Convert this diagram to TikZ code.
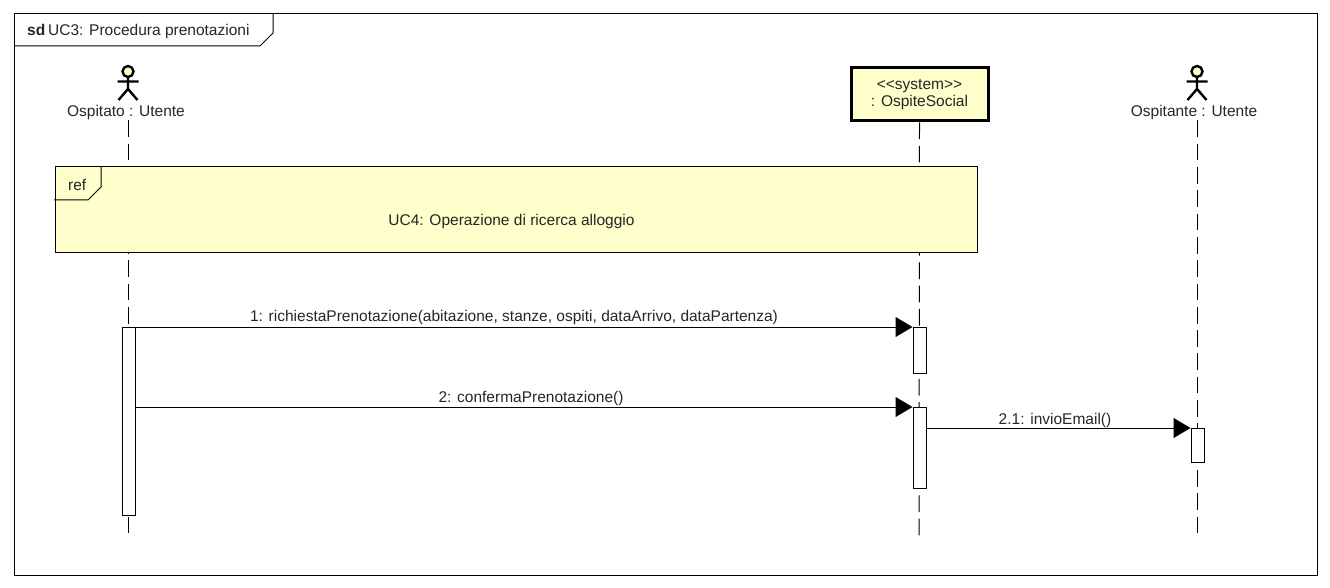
\documentclass[tikz,border=0pt]{standalone}
\usepackage{fontspec}
\setmainfont{Liberation Sans}
\usetikzlibrary{arrows.meta}
\definecolor{noteyellow}{HTML}{FFFFCC}
\tikzset{
  uml/.style={font=\fontsize{15.5}{17}\selectfont, text=black!85},
  lifeline/.style={line width=1pt, dash pattern=on 16.7pt off 6.6pt},
  activation/.style={draw, fill=white, line width=1pt, minimum width=13pt, inner sep=0pt, anchor=north},
  message/.style={line width=1pt, -{Triangle[length=17pt,width=20pt]}},
  msglabel/.style={uml, inner sep=0pt, anchor=base},
  stickman/.pic={
    \draw[line width=2.4pt, fill=noteyellow] (0,-5.5) circle (5.5pt);
    \draw[line width=2.4pt] (0,0) -- (0,12) (-10.5,4.5) -- (10.5,4.5) (-9.5,23) -- (0,12) -- (9.5,23);
  }
}
\begin{document}
\begin{tikzpicture}[x=1pt, y=-1pt, >=stealth]
  \useasboundingbox (0,0) rectangle (1330,588);
  % outer frame and its tab
  \draw[line width=1pt] (14,14) rectangle (1317,575);
  \draw[line width=1pt] (273,14) -- (273,33) -- (260,46) -- (14,46);
  \node[uml, inner sep=0pt, anchor=base west] (sdtag) at (27,36) {\textbf{sd}};
  \node[uml, inner sep=0pt, anchor=base west] (sdtitle) at (48,36) {UC3: Procedura prenotazioni};
  % participants
  \pic at (128,77) {stickman};
  \pic at (1197,77) {stickman};
  \node[uml, inner sep=0pt] (ospitato) at (126,112) {Ospitato : Utente};
  \node[uml, inner sep=0pt] (ospitante) at (1194,112) {Ospitante : Utente};
  \node[draw, line width=3pt, fill=noteyellow, minimum width=137pt, minimum height=53pt, align=center, inner sep=0pt, uml] (sistema) at (919.5,94.5)
    {\raisebox{0.5pt}{{<}{<}system{>}{>}}\\[-1pt]: OspiteSocial};
  % lifelines
  \coordinate (ospitatoEnd) at (128,536);
  \coordinate (sistemaEnd) at (919,536);
  \coordinate (ospitanteEnd) at (1197,536);
  \draw[lifeline] (ospitato.south -| ospitatoEnd) ++(0,1) -- (ospitatoEnd);
  \draw[lifeline] (sistema.south) -- (sistemaEnd);
  \draw[lifeline] (ospitante.south -| ospitanteEnd) ++(0,1) -- (ospitanteEnd);
  % ref fragment
  \node[draw, line width=1pt, fill=noteyellow, minimum width=922pt, minimum height=85pt, inner sep=0pt] (riquadro) at (516,209.5) {};
  \draw[line width=1pt] (101,167) -- (101,187) -- (88,200) -- (54,200);
  \node[uml, inner sep=0pt, anchor=base west] (reftag) at (68,190) {ref};
  \node[uml, inner sep=0pt] (reftext) at (511.5,221) {UC4: Operazione di ricerca alloggio};
  % activation bars
  \foreach \nm/\xc/\yc/\hh in {attA/128.5/327/188, attB/919.5/327/46, attC/919.5/407/81, attD/1197.5/428/34} {
    \node[activation, minimum height=\hh pt] (\nm) at (\xc,\yc) {};
  }
  % messages
  \draw[message] (attA.north east) -- (attB.north west);
  \draw[message] (attA.east |- attC.north) -- (attC.north west);
  \draw[message] (attC.east |- attD.north) -- (attD.north west);
  \node[msglabel] (msgA) at (514,321) {1: richiestaPrenotazione(abitazione, stanze, ospiti, dataArrivo, dataPartenza)};
  \node[msglabel] (msgB) at (531,402) {2: confermaPrenotazione()};
  \node[msglabel] (msgC) at (1055,424) {2.1: invioEmail()};
\end{tikzpicture}
\end{document}
